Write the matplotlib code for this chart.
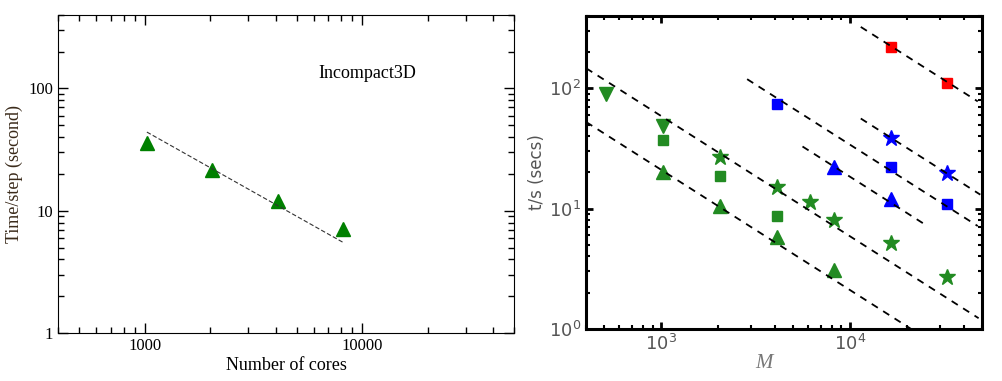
import numpy as np
import matplotlib
matplotlib.use('Agg')
import matplotlib.pyplot as plt
from matplotlib.ticker import LogLocator, FixedLocator, FixedFormatter, NullFormatter

# %% data, left panel (Incompact3D)
cores = [1024, 2048, 4096, 8192]
time_step = [36, 21.5, 12, 7.1]
fit_cores = [1024, 8192]
fit_const = 44 * 1024  # ideal scaling t = C / cores

# %% data, right panel
green_down_x = [512, 1024]
green_down_y = [90, 49]
green_sq_x = [1024, 2048, 4096]
green_sq_y = [37, 18.8, 8.7]
green_up_x = [1024, 2048, 4096, 8192]
green_up_y = [20, 10.6, 5.8, 3.1]
green_star_x = [2048, 4096, 6144, 8192, 16384, 32768]
green_star_y = [27, 15, 11.4, 8.1, 5.2, 2.7]
blue_sq_x = [4096, 16384, 32768]
blue_sq_y = [74, 22, 11]
blue_up_x = [8192, 16384]
blue_up_y = [22, 12]
blue_star_x = [16384, 32768]
blue_star_y = [39, 19.6]
red_sq_x = [16384, 32768]
red_sq_y = [220, 111]

# dashed guide lines t = C / M: (C, M start, M end)
guide_const = [58800, 21000, 3.4e5, 1.84e5, 6.4e5, 3.7e6]
guide_start = [400, 400, 2850, 5600, 11400, 11400]
guide_end = [48000, 21000, 47500, 24500, 49000, 47500]

fig = plt.figure(figsize=(10.02, 3.81), dpi=100)

# %% left panel
ax1 = fig.add_axes([0.058, 0.126, 0.455, 0.835])
serif = 'Liberation Serif'
ax1.plot(cores, time_step, '^', color='#008000', ms=10, mec='#008000')
fx = np.array(fit_cores, dtype=float)
ax1.plot(fx, fit_const / fx, '--', color='#333333', lw=0.8, dashes=(4, 2))
ax1.set_xscale('log')
ax1.set_yscale('log')
ax1.set_xlim(400, 50000)
ax1.set_ylim(1, 400)
ax1.xaxis.set_major_locator(FixedLocator([1000, 10000]))
ax1.xaxis.set_major_formatter(FixedFormatter(['1000', '10000']))
ax1.yaxis.set_major_locator(FixedLocator([1, 10, 100]))
ax1.yaxis.set_major_formatter(FixedFormatter(['1', '10', '100']))
ax1.xaxis.set_minor_locator(LogLocator(base=10, subs=np.arange(2, 10)))
ax1.yaxis.set_minor_locator(LogLocator(base=10, subs=np.arange(2, 10)))
ax1.xaxis.set_minor_formatter(NullFormatter())
ax1.yaxis.set_minor_formatter(NullFormatter())
ax1.tick_params(which='both', direction='in', top=True, right=True)
ax1.tick_params(which='major', length=7, width=1)
ax1.tick_params(which='minor', length=4, width=1)
for lab in ax1.get_xticklabels() + ax1.get_yticklabels():
    lab.set_family(serif)
    lab.set_fontsize(12)
ax1.set_xlabel('Number of cores', family=serif, fontsize=13, labelpad=2)
ax1.set_ylabel('Time/step (second)', family=serif, fontsize=13, color='#3a2a1a', labelpad=4)
ax1.text(0.57, 0.80, 'Incompact3D', transform=ax1.transAxes, family=serif, fontsize=13)

# %% right panel
ax2 = fig.add_axes([0.585, 0.137, 0.395, 0.821])
ax2.plot(green_down_x, green_down_y, 'v', color='forestgreen', ms=10)
ax2.plot(green_sq_x, green_sq_y, 's', color='forestgreen', ms=7)
ax2.plot(green_up_x, green_up_y, '^', color='forestgreen', ms=10)
ax2.plot(green_star_x, green_star_y, '*', color='forestgreen', ms=12)
ax2.plot(blue_sq_x, blue_sq_y, 's', color='blue', ms=7)
ax2.plot(blue_up_x, blue_up_y, '^', color='blue', ms=10)
ax2.plot(blue_star_x, blue_star_y, '*', color='blue', ms=12)
ax2.plot(red_sq_x, red_sq_y, 's', color='red', ms=7)
for c, m0, m1 in zip(guide_const, guide_start, guide_end):
    mm = np.array([m0, m1], dtype=float)
    ax2.plot(mm, c / mm, '--', color='black', lw=1.3, dashes=(4, 3.5))
ax2.set_xscale('log')
ax2.set_yscale('log')
ax2.set_xlim(400, 50000)
ax2.set_ylim(1, 400)
ax2.xaxis.set_major_locator(FixedLocator([1000, 10000]))
ax2.yaxis.set_major_locator(FixedLocator([1, 10, 100]))
ax2.xaxis.set_minor_locator(LogLocator(base=10, subs=np.arange(2, 10)))
ax2.yaxis.set_minor_locator(LogLocator(base=10, subs=np.arange(2, 10)))
ax2.xaxis.set_minor_formatter(NullFormatter())
ax2.yaxis.set_minor_formatter(NullFormatter())
for s in ax2.spines.values():
    s.set_linewidth(2.2)
ax2.tick_params(which='both', direction='in', top=True, right=True,
                labelcolor='#555555', labelsize=13)
ax2.tick_params(which='major', length=5, width=2)
ax2.tick_params(which='minor', length=3, width=1.5)
ax2.set_xlabel('M', family=serif, style='italic', fontsize=15, color='#777777', labelpad=0)
ax2.xaxis.set_label_coords(0.45, -0.08)
ax2.set_ylabel('t/s (secs)', fontsize=12, color='#555555', labelpad=2)

fig.savefig('out.png', dpi=100)
